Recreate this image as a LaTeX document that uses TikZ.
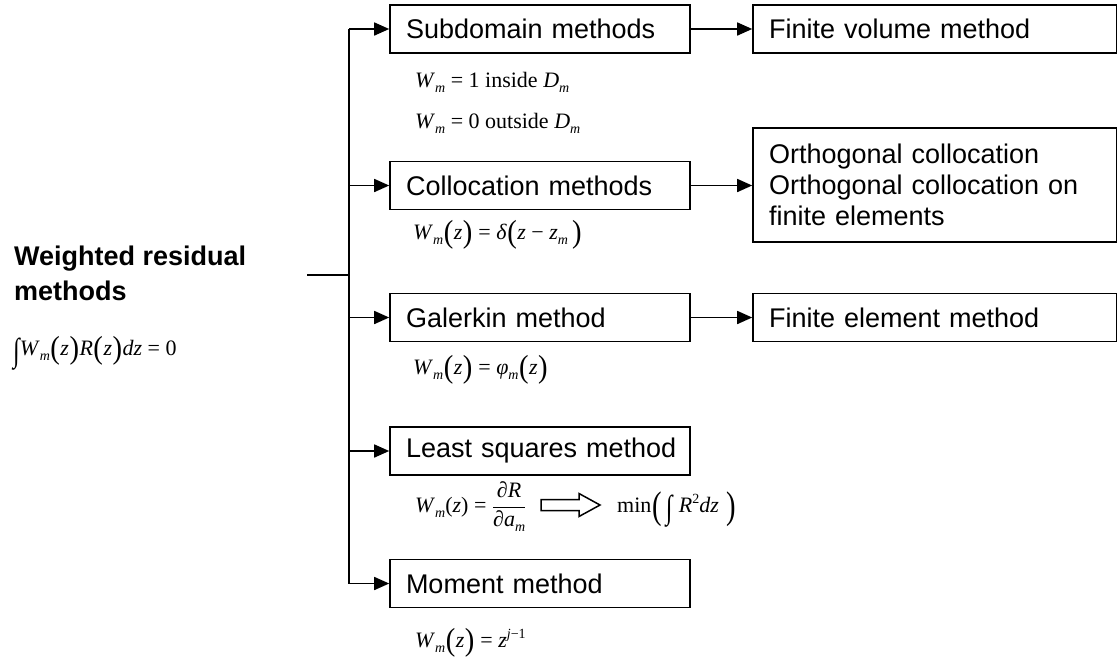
\documentclass[tikz,border=0pt]{standalone}
\usepackage{fontspec}
\usepackage{graphicx}
\setmainfont{Liberation Sans}
\newfontfamily\tnr{Liberation Serif}
\usetikzlibrary{arrows.meta}
\newcommand\mi[1]{\textit{#1}}
\newcommand\sbm[1]{\raisebox{-0.5ex}{\fontsize{14}{14}\selectfont\textit{#1}}}
\newcommand\spm[1]{\raisebox{0.8ex}{\fontsize{14}{14}\selectfont #1}}
\newcommand\lpar{\kern0.5pt\raisebox{-0.16em}{\scalebox{1.3}[1.45]{(}}\kern0.5pt}
\newcommand\rpar{\kern0.5pt\raisebox{-0.16em}{\scalebox{1.3}[1.45]{)}}\kern0.5pt}
\newcommand\Lpar{\kern1.5pt\raisebox{-0.3em}{\scalebox{1.3}[1.75]{(}}}
\newcommand\Rpar{\raisebox{-0.3em}{\scalebox{1.3}[1.75]{)}}}
\newcommand\bigint{\raisebox{-0.28em}{\scalebox{1.1}[1.5]{∫}}}
\newcommand\eqs{\hspace{0.25em}=\hspace{0.25em}}
\begin{document}
\begin{tikzpicture}[x=1pt,y=-1pt,
  box/.style={draw,line width=1.6pt,minimum height=48pt,inner xsep=16pt,align=left,
    font=\fontsize{27}{31}\selectfont},
  lbox/.style={box,text width=268pt},
  rbox/.style={box,text width=331.5pt},
  link/.style={line width=1.6pt,-{Triangle[length=15pt,width=13pt]}},
  plain/.style={line width=1.6pt},
  eq/.style={anchor=base west,inner sep=0pt,font=\tnr\fontsize{22}{25}\selectfont},
  title/.style={anchor=base west,inner sep=0pt,font=\bfseries\fontsize{27}{31}\selectfont}]
\useasboundingbox (0,0) rectangle (1118,662);

% left column boxes
\node[lbox] (sub) at (540,29) {Subdomain methods};
\node[lbox] (col) at (540,185.5) {Collocation methods};
\node[lbox] (gal) at (540,317.5) {Galerkin method};
\node[lbox] (lsq) at (540,451) {\mbox{Least squares method}};
\node[lbox] (mom) at (540,583.5) {Moment method};

% right column boxes
\node[rbox] (fvm) at (934.75,29) {Finite volume method};
\node[rbox,minimum height=114pt] (ocl) at (934.75,185) {Orthogonal collocation\\Orthogonal collocation on\\finite elements};
\node[rbox] (fem) at (934.75,317.5) {Finite element method};

% trunk
\coordinate (root) at (307,275);
\coordinate (j1) at (349,29);
\coordinate (j2) at (349,185.5);
\coordinate (j3) at (349,317.5);
\coordinate (j4) at (349,451);
\coordinate (j5) at (349,583.5);
\draw[plain] (root) -- (root -| j1);
\draw[plain] (j1) -- (j5);
\draw[link] (j1) -- (sub.west);
\draw[link] (j2) -- (col.west);
\draw[link] (j3) -- (gal.west);
\draw[link] (j4) -- (lsq.west);
\draw[link] (j5) -- (mom.west);

\draw[link] (sub.east) -- (fvm.west);
\draw[link] (col.east) -- (col.east -| ocl.west);
\draw[link] (gal.east) -- (fem.west);

% title
\node[title] (t1) at (14,265) {Weighted residual};
\node[title] (t2) at (14,300) {methods};
\node[eq] (e0) at (13,355) {\bigint\mi{W}\sbm{m}\lpar\mi{z}\rpar\mi{R}\lpar\mi{z}\rpar\mi{dz}\eqs0};

% formulas
\node[eq] (e1) at (415,87) {\mi{W}\sbm{m}\eqs1 inside \mi{D}\sbm{m}};
\node[eq] (e2) at (415,128) {\mi{W}\sbm{m}\eqs0 outside \mi{D}\sbm{m}};
\node[eq] (e3) at (413,239) {\mi{W}\sbm{m}\lpar\mi{z}\rpar\eqs\mi{δ}\lpar\mi{z}\hspace{0.25em}−\hspace{0.25em}\mi{z}\sbm{m}\,\rpar};
\node[eq] (e4) at (413,374) {\mi{W}\sbm{m}\lpar\mi{z}\rpar\eqs\mi{φ}\sbm{m}\lpar\mi{z}\rpar};
\node[eq] (e5) at (415,512) {\mi{W}\sbm{m}(\mi{z})\eqs$\displaystyle\frac{\hbox{∂\mi{R}}}{\hbox{∂\mi{a}\sbm{m}}}$};
\draw[line width=1.5pt] (541,499.5) -- (579,499.5) -- (579,493.5) -- (600,505) -- (579,516.5) -- (579,510.5) -- (541,510.5) -- cycle;
\node[eq] (e5m) at (617,512) {min\Lpar\hspace{0.15em}\bigint\hspace{0.3em}\mi{R}\spm{2}\mi{dz}\hspace{0.35em}\Rpar};
\node[eq] (e6) at (415,647) {\mi{W}\sbm{m}\lpar\mi{z}\rpar\eqs\mi{z}\spm{\mi{j}−1}};
\end{tikzpicture}
\end{document}
